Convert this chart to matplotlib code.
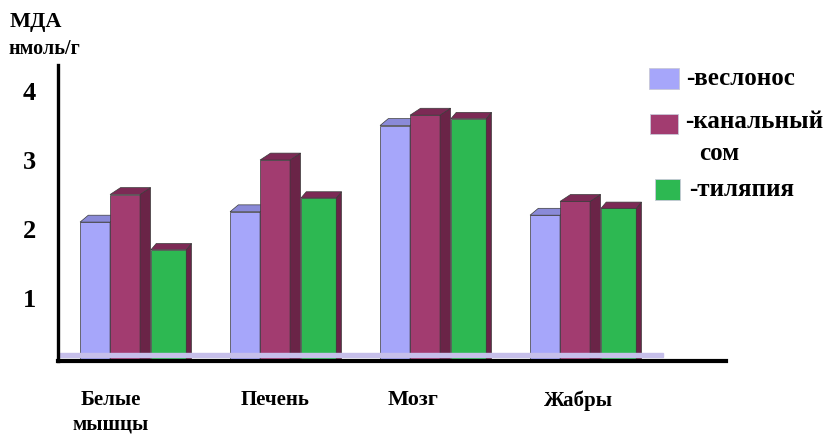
import numpy as np
import matplotlib.pyplot as plt
from matplotlib.patches import Polygon, Rectangle

categories = ["Белые\nмышцы", "Печень", "Мозг", "Жабры"]
series = ["-веслонос", "-канальный\nсом", "-тиляпия"]
veslonos = [2.1, 2.25, 3.5, 2.2]
kanal_som = [2.5, 3.0, 3.65, 2.4]
tilapia = [1.7, 2.45, 3.6, 2.3]
yticks = [1, 2, 3, 4]

LAV, LAV_TOP = "#a6a6fa", "#8a8ad8"
MAR, MAR_TOP, MAR_SIDE = "#a23c70", "#7c2a55", "#6a2447"
GRN = "#2db852"
EDGE = "#3a3a3a"

plt.rcParams['font.family'] = ['Liberation Serif', 'DejaVu Serif']

W, H = 827, 434
fig = plt.figure(figsize=(W / 100, H / 100), dpi=100)
ax = fig.add_axes([58 / W, (H - 361) / H, (726 - 58) / W, (361 - 65) / H])
ax.set_xlim(-0.5, -0.5 + 668 / 150)
ax.set_ylim(0.087, 4.377)


def bar3d(x, h, w, front, top, side, dx, dy, z):
    ax.bar(x, h, width=w, align='edge', color=front, edgecolor=EDGE,
           linewidth=0.5, zorder=z)
    ax.add_patch(Polygon([(x + w, 0), (x + w + dx, dy), (x + w + dx, h + dy), (x + w, h)],
                         closed=True, facecolor=side, edgecolor=EDGE,
                         linewidth=0.5, zorder=z))
    ax.add_patch(Polygon([(x, h), (x + w, h), (x + w + dx, h + dy), (x + dx, h + dy)],
                         closed=True, facecolor=top, edgecolor=EDGE,
                         linewidth=0.5, zorder=z))


xs = np.arange(len(categories))
for i, x in enumerate(xs):
    bar3d(x - 0.353, veslonos[i], 0.2, LAV, LAV_TOP, LAV_TOP, 0.055, 0.1, 2)
    bar3d(x - 0.153, kanal_som[i], 0.2, MAR, MAR_TOP, MAR_SIDE, 0.07, 0.1, 3)
    bar3d(x + 0.12, tilapia[i], 0.235, GRN, MAR_TOP, MAR_SIDE, 0.035, 0.09, 4)

# floor strip
ax.axhspan(0.14, 0.2, xmin=0, xmax=(663 - 58) / 668, color="#c6bfea", zorder=5)

for s in ["top", "right"]:
    ax.spines[s].set_visible(False)
ax.spines["left"].set_linewidth(2.4)
ax.spines["bottom"].set_linewidth(3)
ax.spines["left"].set_zorder(6)
ax.spines["bottom"].set_zorder(6)

ax.set_yticks(yticks)
ax.set_yticklabels([str(t) for t in yticks], fontsize=19, fontweight='bold')
ax.tick_params(axis='y', length=0, pad=16)
ax.set_xticks([])

# category labels under the groups
label_dx = [-0.15, -0.05, -0.13, -0.03]
label_fs = [15, 15, 16, 15]
for x, name, d, fs in zip(xs, categories, label_dx, label_fs):
    ax.text(x + d, -0.34, name, ha='center', va='top', fontsize=fs,
            fontweight='bold', linespacing=1.25, clip_on=False)

fig.text(10 / W, 1 - 22 / H, "МДА", fontsize=16, fontweight='bold', va='center')
fig.text(8 / W, 1 - 49 / H, "нмоль/г", fontsize=14.5, fontweight='bold', va='center')

# legend
leg_colors = [LAV, MAR, GRN]
boxes = [(649, 68, 30, 21), (650, 114, 28, 20), (655, 179, 25, 21)]
texts = [[(686, 79)], [(685, 122), (699, 154)], [(689, 190)]]
for c, (bx, by, bw, bh), pos, lab in zip(leg_colors, boxes, texts, series):
    fig.patches.append(Rectangle((bx / W, 1 - (by + bh) / H), bw / W, bh / H,
                                 transform=fig.transFigure, facecolor=c,
                                 edgecolor="#c8c8d8", linewidth=0.6))
    for (tx, ty), line in zip(pos, lab.split("\n")):
        fig.text(tx / W, 1 - ty / H, line, fontsize=18, fontweight='bold',
                 va='center')

fig.savefig("out.png", dpi=100)
